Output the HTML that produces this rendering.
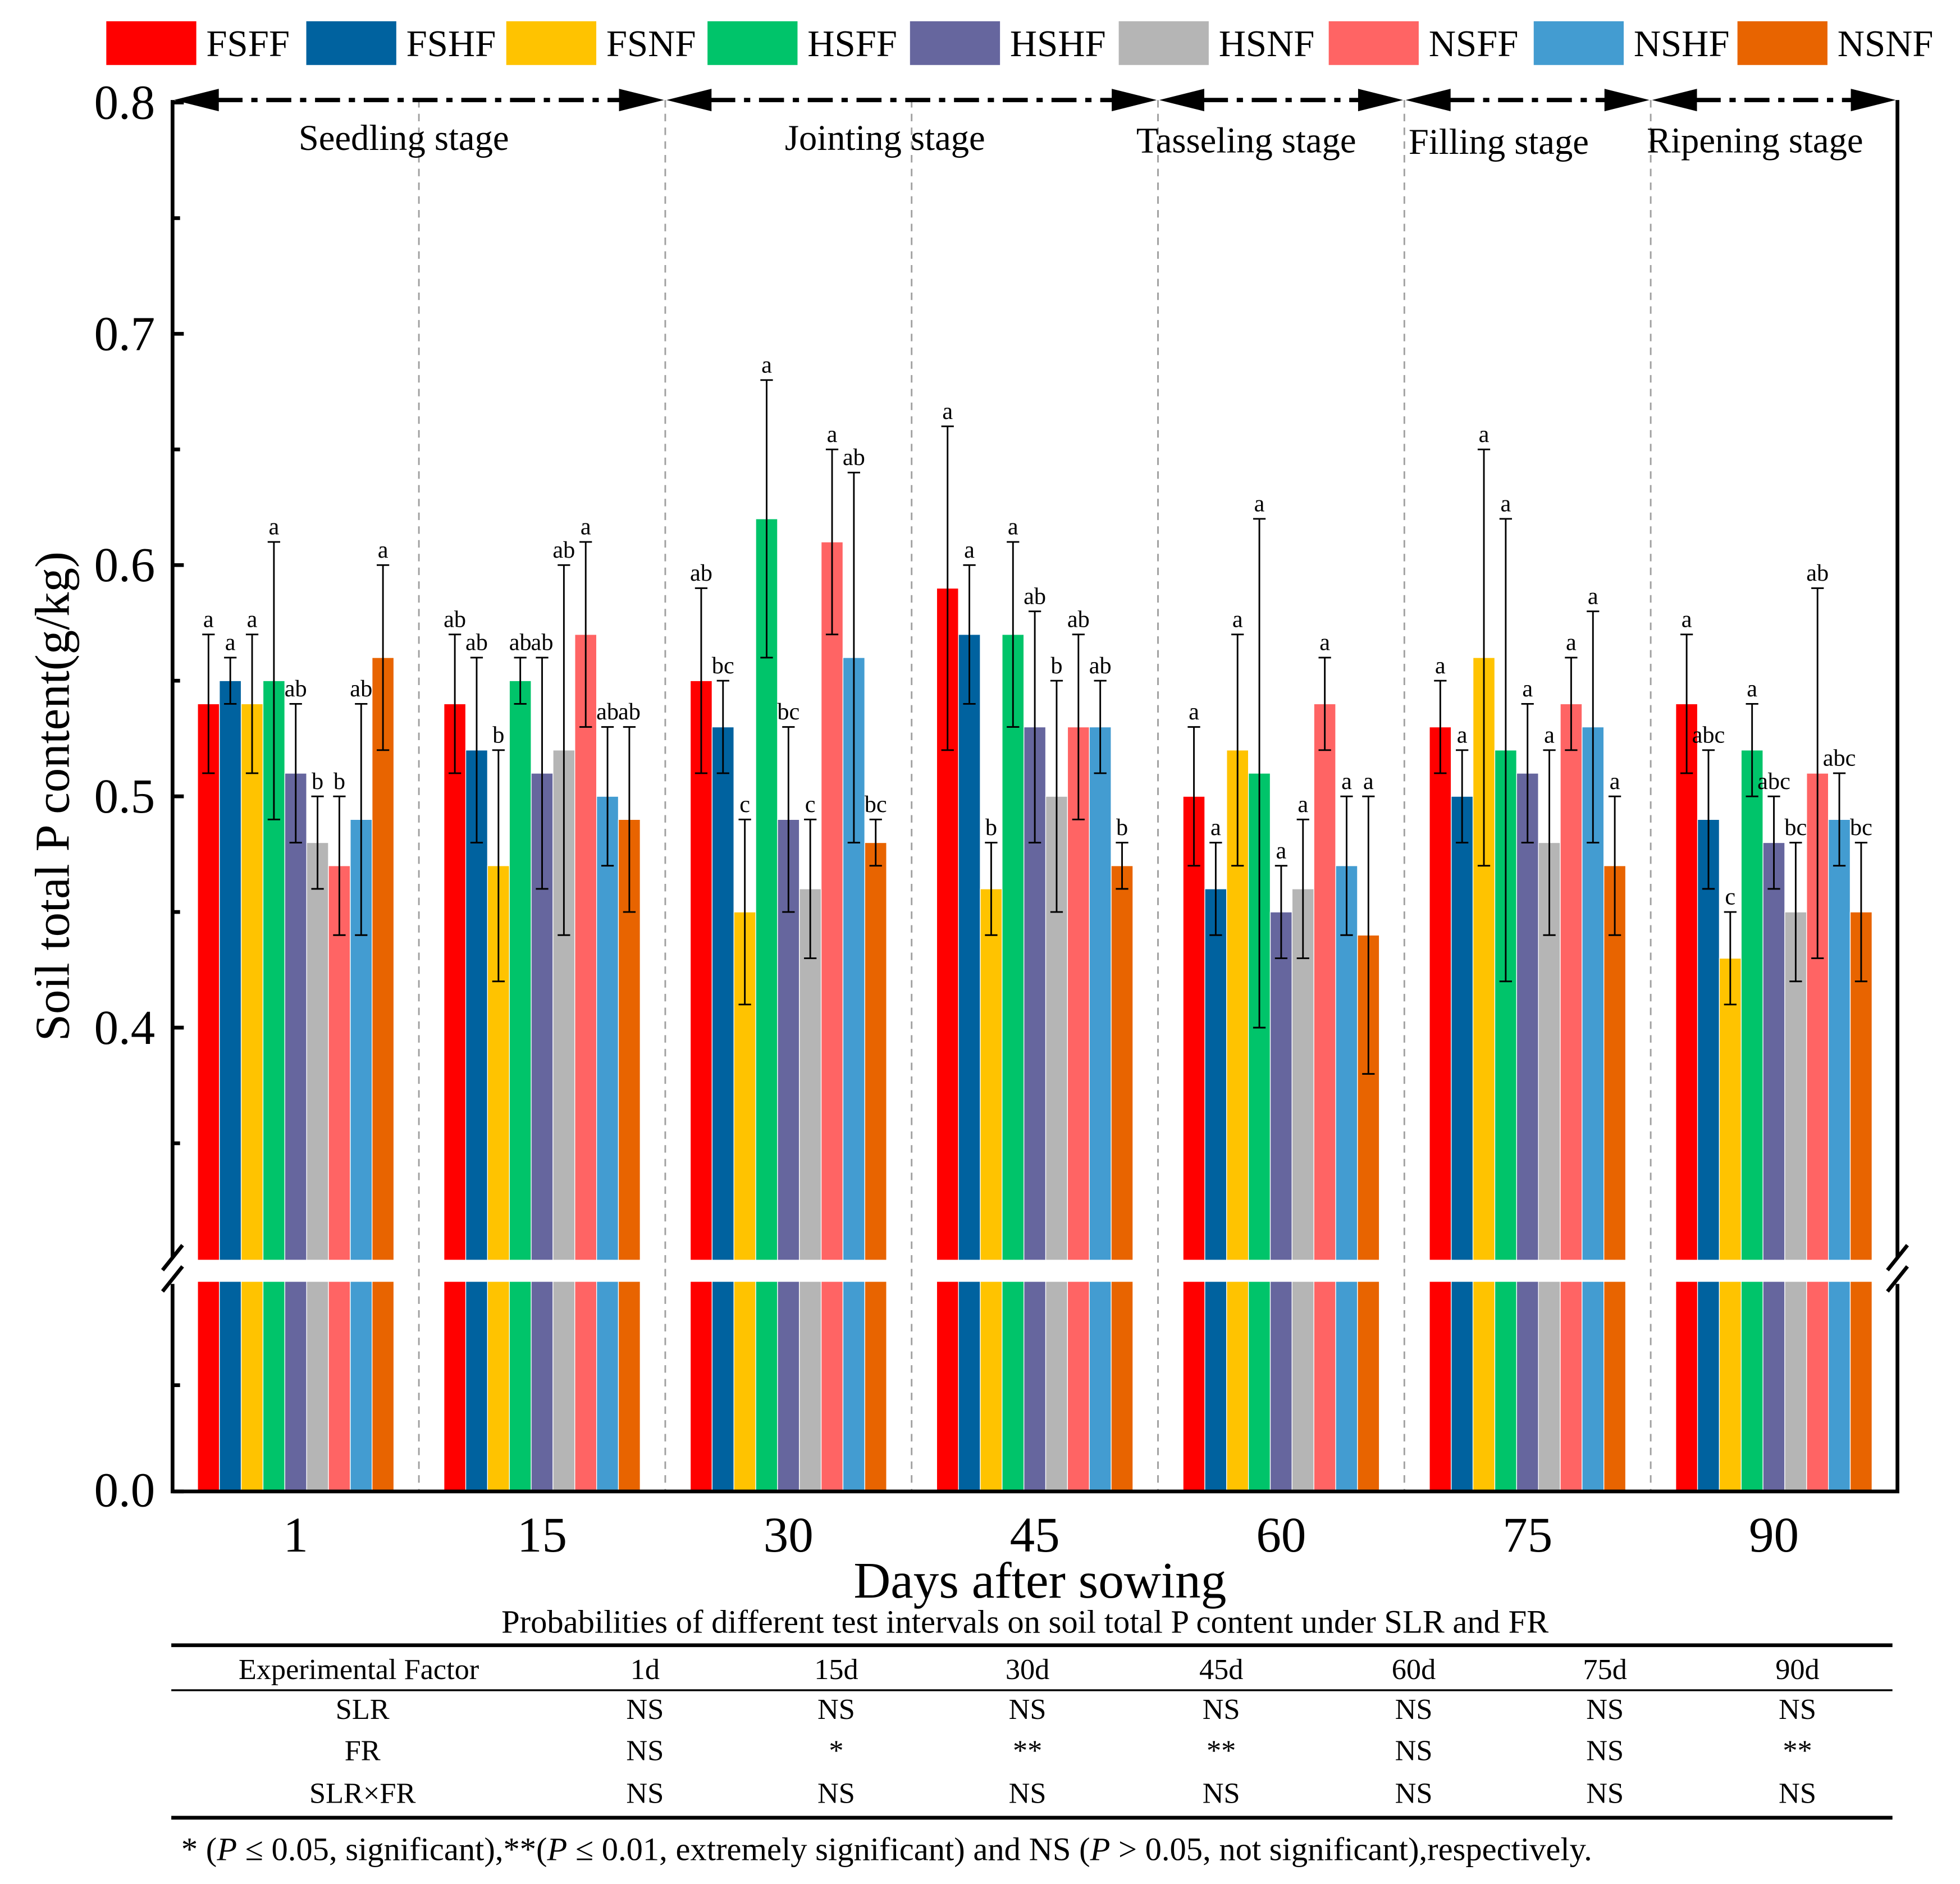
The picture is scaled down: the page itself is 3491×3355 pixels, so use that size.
<!DOCTYPE html>
<html><head><meta charset="utf-8"><style>
html,body{margin:0;padding:0;background:#fff}
svg{display:block}
text{font-family:"Liberation Serif",serif;fill:#000}
</style></head><body>
<svg id="chart" width="3491" height="3355" viewBox="0 0 1568 1507" xmlns="http://www.w3.org/2000/svg">
<g id="legend"></g>
<g id="plot"></g>
<g id="table"></g>
</svg>
<script>
const series = ["FSFF","FSHF","FSNF","HSFF","HSHF","HSNF","NSFF","NSHF","NSNF"];
const colors = ["#FF0000","#00629F","#FFC300","#00C46A","#66669E","#B5B5B5","#FF6464","#439CD1","#E86400"];
const days = ["1","15","30","45","60","75","90"];
const values = [
 [0.54,0.55,0.54,0.55,0.51,0.48,0.47,0.49,0.56],
 [0.54,0.52,0.47,0.55,0.51,0.52,0.57,0.50,0.49],
 [0.55,0.53,0.45,0.62,0.49,0.46,0.61,0.56,0.48],
 [0.59,0.57,0.46,0.57,0.53,0.50,0.53,0.53,0.47],
 [0.50,0.46,0.52,0.51,0.45,0.46,0.54,0.47,0.44],
 [0.53,0.50,0.56,0.52,0.51,0.48,0.54,0.53,0.47],
 [0.54,0.49,0.43,0.52,0.48,0.45,0.51,0.49,0.45]];
const errors = [
 [0.03,0.01,0.03,0.06,0.03,0.02,0.03,0.05,0.04],
 [0.03,0.04,0.05,0.01,0.05,0.08,0.04,0.03,0.04],
 [0.04,0.02,0.04,0.06,0.04,0.03,0.04,0.08,0.01],
 [0.07,0.03,0.02,0.04,0.05,0.05,0.04,0.02,0.01],
 [0.03,0.02,0.05,0.11,0.02,0.03,0.02,0.03,0.06],
 [0.02,0.02,0.09,0.10,0.03,0.04,0.02,0.05,0.03],
 [0.03,0.03,0.02,0.02,0.02,0.03,0.08,0.02,0.03]];
const letters = [
 ["a","a","a","a","ab","b","b","ab","a"],
 ["ab","ab","b","ab","ab","ab","a","ab","ab"],
 ["ab","bc","c","a","bc","c","a","ab","bc"],
 ["a","a","b","a","ab","b","ab","ab","b"],
 ["a","a","a","a","a","a","a","a","a"],
 ["a","a","a","a","a","a","a","a","a"],
 ["a","abc","c","a","abc","bc","ab","abc","bc"]];
const yTicks = ["0.4","0.5","0.6","0.7","0.8"];
const stages = [["Seedling stage",0,2],["Jointing stage",2,4],["Tasseling stage",4,5],["Filling stage",5,6],["Ripening stage",6,7]];
const tableCols = ["1d","15d","30d","45d","60d","75d","90d"];
const rowSLR = ["NS","NS","NS","NS","NS","NS","NS"];
const rowFR = ["NS","*","**","**","NS","NS","**"];
const rowInt = ["NS","NS","NS","NS","NS","NS","NS"];

const NS="http://www.w3.org/2000/svg";
function mk(parent,tag,attrs,txt){const e=document.createElementNS(NS,tag);for(const k in attrs)e.setAttribute(k,attrs[k]);if(txt!==undefined)e.textContent=txt;parent.appendChild(e);return e;}
const L=138,R=1518,TOP=80,BOT=1193,BRK_HI=1008,BRK_LO=1025;
const yU=v=>822-(v-0.4)*1850;
const grpW=197.1, x0=L;
const gx=i=>x0+grpW*(i+0.5);
const barW=17.45;
const plot=document.getElementById('plot');
const legend=document.getElementById('legend');
const table=document.getElementById('table');

// legend
const legX=[85,245,405,566,728,895,1063,1227,1390];
series.forEach((s,i)=>{
 const g=mk(legend,'g',{});
 
 
 mk(g,'rect',{x:legX[i],y:17,width:72,height:35,fill:colors[i]});
 mk(g,'text',{x:legX[i]+80,y:45,'font-size':30},s);
});

// dashed separators
for(let i=1;i<7;i++){
 const l=mk(plot,'line',{x1:x0+grpW*i,x2:x0+grpW*i,y1:TOP,y2:BOT,stroke:'#A0A0A0','stroke-width':1.3,'stroke-dasharray':'6,5'});
 
 
}
// bars
days.forEach((d,gi)=>{
 series.forEach((s,si)=>{
  const v=values[gi][si], e=errors[gi][si];
  const bx=gx(gi)-4.5*barW+si*barW;
  const g=mk(plot,'g',{});
  
  
  mk(g,'rect',{x:bx,y:yU(v),width:barW,height:BRK_HI-yU(v),fill:colors[si],stroke:'#fff','stroke-width':0.6});
  mk(g,'rect',{x:bx,y:BRK_LO,width:barW,height:BOT-BRK_LO,fill:colors[si],stroke:'#fff','stroke-width':0.6});
  const cx=bx+barW/2, t=yU(v+e), b=yU(v-e);
  mk(g,'line',{x1:cx,x2:cx,y1:t,y2:b,stroke:'#000','stroke-width':1.3});
  mk(g,'line',{x1:cx-5,x2:cx+5,y1:t,y2:t,stroke:'#000','stroke-width':1.3});
  mk(g,'line',{x1:cx-5,x2:cx+5,y1:b,y2:b,stroke:'#000','stroke-width':1.3});
  const lt=mk(g,'text',{x:cx,y:t-6,'font-size':19,'text-anchor':'middle'},letters[gi][si]);
  
  
 });
 const tl=mk(plot,'text',{x:gx(gi),y:1241,'font-size':40,'text-anchor':'middle'},d);
 
 
});
// frame (top edge handled by stage arrows)
const fr=mk(plot,'path',{d:`M${L},${BRK_HI-2} L${L},${TOP} M${R},${TOP} L${R},${BRK_HI-2} M${L},${BRK_LO+2} L${L},${BOT} L${R},${BOT} L${R},${BRK_LO+2}`,fill:'none',stroke:'#000','stroke-width':3});


// break marks
[[L],[R]].forEach(([x])=>{
 [BRK_HI,BRK_LO].forEach(y=>{
  const bm=mk(plot,'line',{x1:x-8,y1:y+8,x2:x+8,y2:y-12,stroke:'#000','stroke-width':3});
  
  
 });
});
// y ticks
yTicks.forEach(t=>{
 const y=yU(parseFloat(t));
 mk(plot,'line',{x1:L,x2:L+9,y1:y,y2:y,stroke:'#000','stroke-width':3});
 const tx=mk(plot,'text',{x:124,y:y+13,'font-size':39,'text-anchor':'end'},t);
 
 
});
[0.35,0.45,0.55,0.65,0.75].forEach(v=>mk(plot,'line',{x1:L,x2:L+6,y1:yU(v),y2:yU(v),stroke:'#000','stroke-width':3}));
mk(plot,'line',{x1:L,x2:L+9,y1:BOT,y2:BOT,stroke:'#000','stroke-width':3});
mk(plot,'line',{x1:L,x2:L+6,y1:1108,y2:1108,stroke:'#000','stroke-width':3});
const z=mk(plot,'text',{x:124,y:BOT+12,'font-size':39,'text-anchor':'end'},'0.0');


// axis titles
const yt=mk(plot,'text',{x:55,y:637,'font-size':39,'text-anchor':'middle',transform:'rotate(-90 55 637)'},'Soil total P content(g/kg)');


const xt=mk(plot,'text',{x:832,y:1278,'font-size':41,'text-anchor':'middle'},'Days after sowing');


// stage arrows
const stageLabelX=[323,708,997,1199,1404];
const stageLabelY=[120,120,122,123,122];
stages.forEach(([name,a,b],k)=>{
 const xa=x0+grpW*a, xb=x0+grpW*b;
 const g=mk(plot,'g',{});
 
 
 mk(g,'line',{x1:xa+36,x2:xb-36,y1:80,y2:80,stroke:'#000','stroke-width':3.5,'stroke-dasharray':'20,7,5,7'});
 mk(g,'polygon',{points:`${xa+1},80 ${xa+37},71 ${xa+37},89`,fill:'#000'});
 mk(g,'polygon',{points:`${xb-1},80 ${xb-37},71 ${xb-37},89`,fill:'#000'});
 mk(g,'text',{x:stageLabelX[k],y:stageLabelY[k],'font-size':29,'text-anchor':'middle'},name);
});
// table
const tt=mk(table,'text',{x:820,y:1306,'font-size':26.3,'text-anchor':'middle'},'Probabilities of different test intervals on soil total P content under SLR and FR');


mk(table,'line',{x1:137,x2:1514,y1:1316,y2:1316,stroke:'#000','stroke-width':3});
mk(table,'line',{x1:137,x2:1514,y1:1352,y2:1352,stroke:'#000','stroke-width':1.5});
mk(table,'line',{x1:137,x2:1514,y1:1454,y2:1454,stroke:'#000','stroke-width':3});
const colX=[516,669,822,977,1131,1284,1438];
mk(table,'text',{x:287,y:1343,'font-size':23.5,'text-anchor':'middle'},'Experimental Factor');
tableCols.forEach((c,i)=>mk(table,'text',{x:colX[i],y:1343,'font-size':23.5,'text-anchor':'middle'},c));
[["SLR",rowSLR,1375],["FR",rowFR,1408],["SLR×FR",rowInt,1442]].forEach(([n,row,y])=>{
 const g=mk(table,'g',{});
 
 
 mk(g,'text',{x:290,y:y,'font-size':23.5,'text-anchor':'middle'},n);
 row.forEach((v,i)=>mk(g,'text',{x:colX[i],y:y,'font-size':23.5,'text-anchor':'middle'},v));
});
const fn=mk(table,'text',{x:145,y:1488,'font-size':26.3},'');


fn.innerHTML='* (<tspan font-style="italic">P</tspan> ≤ 0.05, significant),**(<tspan font-style="italic">P</tspan> ≤ 0.01, extremely significant) and NS (<tspan font-style="italic">P</tspan> &gt; 0.05, not significant),respectively.';
</script>
</body></html>
